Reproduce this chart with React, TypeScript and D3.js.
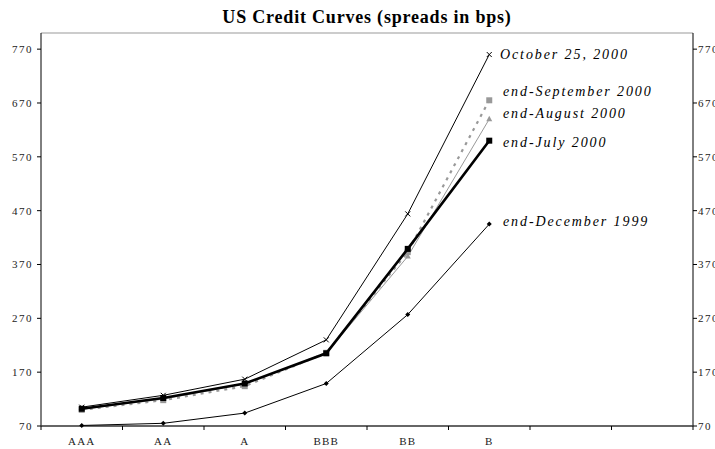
import React from "react";
import * as d3 from "d3";

const categories = ["AAA", "AA", "A", "BBB", "BB", "B", "", ""];
const yTicks = [70, 170, 270, 370, 470, 570, 670, 770];

const oct2000 = [105, 127, 157, 230, 464, 760];
const sep2000 = [100, 118, 144, 206, 393, 675];
const aug2000 = [101, 120, 148, 205, 385, 640];
const jul2000 = [102, 122, 149, 205, 399, 600];
const dec1999 = [71, 75, 94, 149, 277, 445];

const seriesNames = ["October 25, 2000", "end-September 2000", "end-August 2000", "end-July 2000", "end-December 1999"];

const W = 715, H = 449;
const M = { left: 41, right: 693, top: 33, bottom: 426 };

type Style = { color: string; width: number; dash?: string; marker: string; lx: number; ly: number };
const styles: Style[] = [
  { color: "#000", width: 1, marker: "x", lx: 500, ly: 59 },
  { color: "#999", width: 2.2, dash: "3,5", marker: "square", lx: 503, ly: 96 },
  { color: "#999", width: 1, marker: "triangle", lx: 503, ly: 118 },
  { color: "#000", width: 2.6, marker: "square", lx: 503, ly: 147 },
  { color: "#000", width: 1, marker: "diamond", lx: 503, ly: 226 },
];

export default function App() {
  const x = d3.scaleBand<number>().domain(d3.range(categories.length)).range([M.left, M.right]);
  const y = d3.scaleLinear().domain([70, 800]).range([M.bottom, M.top]);
  const cx = (i: number) => (x(i) as number) + x.bandwidth() / 2;
  const data = [oct2000, sep2000, aug2000, jul2000, dec1999];
  const line = d3.line<number>().x((_, i) => cx(i)).y((d) => y(d));
  const font = "'Times New Roman', 'Liberation Serif', serif";

  const marker = (s: Style, px: number, py: number, k: string) => {
    if (s.marker === "x")
      return (
        <path key={k} d={`M${px - 2.5},${py - 2.5}L${px + 2.5},${py + 2.5}M${px - 2.5},${py + 2.5}L${px + 2.5},${py - 2.5}`} stroke={s.color} strokeWidth={1} />
      );
    if (s.marker === "square") return <rect key={k} x={px - 3} y={py - 3} width={6} height={6} fill={s.color} />;
    if (s.marker === "triangle")
      return <path key={k} d={`M${px},${py - 3.5}L${px + 3},${py + 2}L${px - 3},${py + 2}Z`} fill={s.color} />;
    return <path key={k} d={`M${px},${py - 2.5}L${px + 2.5},${py}L${px},${py + 2.5}L${px - 2.5},${py}Z`} fill={s.color} />;
  };

  return (
    <svg width={W} height={H} style={{ position: "absolute", left: 0, top: 0, background: "#fff", overflow: "hidden" }} fontFamily={font}>
      <text x={367} y={23} textAnchor="middle" fontSize={18} fontWeight="bold" letterSpacing={0.8}>US Credit Curves (spreads in bps)</text>
      <line x1={M.left} x2={M.right} y1={M.top} y2={M.top} stroke="#bbb" strokeWidth={1.5} />
      <line x1={M.left} x2={M.left} y1={M.top} y2={M.bottom} stroke="#000" strokeWidth={1} />
      <line x1={M.right} x2={M.right} y1={M.top} y2={M.bottom} stroke="#000" strokeWidth={1} />
      <line x1={M.left} x2={M.right} y1={M.bottom} y2={M.bottom} stroke="#333" strokeWidth={1.5} />
      {yTicks.map((t) => (
        <g key={t}>
          <line x1={M.left - 4} x2={M.left} y1={y(t)} y2={y(t)} stroke="#000" />
          <text x={M.left - 8} y={y(t) + 4} textAnchor="end" fontSize={11} letterSpacing={1.5} fill="#222">{t}</text>
          <line x1={M.right} x2={M.right + 4} y1={y(t)} y2={y(t)} stroke="#000" />
          <text x={M.right + 5} y={y(t) + 4} textAnchor="start" fontSize={11} letterSpacing={1.5} fill="#222">{t}</text>
        </g>
      ))}
      {d3.range(categories.length + 1).map((i) => {
        const bx = i < categories.length ? (x(i) as number) : M.right;
        return <line key={i} x1={bx} x2={bx} y1={M.bottom} y2={M.bottom + 4} stroke="#000" />;
      })}
      {categories.map((c, i) => (
        <text key={i} x={cx(i)} y={445} textAnchor="middle" fontSize={11} letterSpacing={1.2} fill="#222">{c}</text>
      ))}
      {data.map((d, si) => {
        const s = styles[si];
        return (
          <g key={si}>
            <path d={line(d) || ""} fill="none" stroke={s.color} strokeWidth={s.width} strokeDasharray={s.dash} />
            {d.map((v, i) => marker(s, cx(i), y(v), `${si}-${i}`))}
            <text x={s.lx} y={s.ly} fontSize={14} fontStyle="italic" letterSpacing={1.9} fill="#000">{seriesNames[si]}</text>
          </g>
        );
      })}
    </svg>
  );
}
